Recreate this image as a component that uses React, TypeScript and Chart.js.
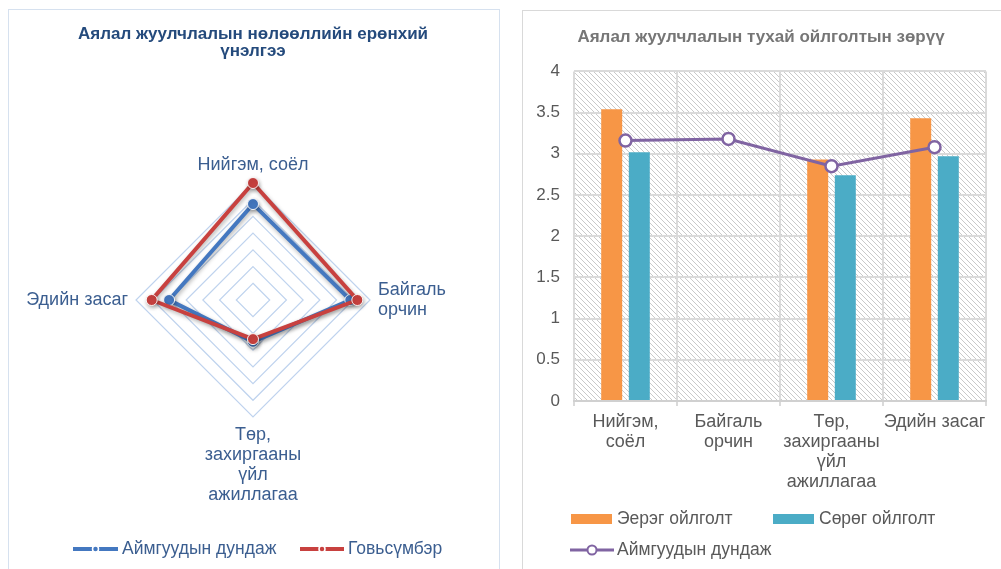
import React, { useEffect, useRef } from 'react';
import { Chart, registerables } from 'chart.js';

Chart.register(...registerables);

const FONT = '"Liberation Sans", Arial, sans-serif';

// ---------- Left chart (radar) data ----------
const radarCategories = [
  ['Нийгэм, соёл'],
  ['Байгаль', 'орчин'],
  ['Төр,', 'захиргааны', 'үйл', 'ажиллагаа'],
  ['Эдийн засаг'],
];
const radarTitle = ['Аялал жуулчлалын нөлөөллийн ерөнхий', 'үнэлгээ'];
const radarSeriesNames = ['Аймгуудын дундаж', 'Говьсүмбэр'];
const radarAimagAverage = [2.87, 2.91, 1.25, 2.51];
const radarGovisumber = [3.5, 3.12, 1.17, 3.03];
const radarMin = 0;
const radarMax = 3.5;
const radarStep = 0.5;

// ---------- Right chart (bar + line) data ----------
const barTitle = 'Аялал жуулчлалын тухай ойлголтын зөрүү';
const barCategories = [
  ['Нийгэм,', 'соёл'],
  ['Байгаль', 'орчин'],
  ['Төр,', 'захиргааны', 'үйл', 'ажиллагаа'],
  ['Эдийн засаг'],
];
const barSeriesNames = ['Эерэг ойлголт', 'Сөрөг ойлголт', 'Аймгуудын дундаж'];
const positiveUnderstanding = [3.54, null, 2.93, 3.43];
const negativeUnderstanding = [3.02, null, 2.74, 2.97];
const aimagAverage = [3.16, 3.18, 2.85, 3.08];
const barAxisMin = 0;
const barAxisMax = 4;
const barAxisStep = 0.5;

const BLUE = '#4478c0';
const RED = '#c8413f';
const ORANGE = '#f79646';
const TEAL = '#4bacc6';
const PURPLE = '#8064a2';

const shadowPlugin = {
  id: 'lineShadow',
  beforeDatasetsDraw(chart: any) {
    const ctx = chart.ctx;
    ctx.save();
    ctx.shadowColor = 'rgba(0,0,0,0.3)';
    ctx.shadowBlur = 4;
    ctx.shadowOffsetX = 1;
    ctx.shadowOffsetY = 2;
  },
  afterDatasetsDraw(chart: any) {
    chart.ctx.restore();
  },
};

const radarLegendPlugin = {
  id: 'radarLegend',
  afterDraw(chart: any) {
    const ctx = chart.ctx;
    const y = 538;
    const pos = [
      { x: 140, w: 45, tx: 189 },
      { x: 367, w: 44, tx: 415 },
    ];
    ctx.save();
    chart.data.datasets.forEach((ds: any, i: number) => {
      const p = pos[i];
      ctx.strokeStyle = ds.borderColor;
      ctx.lineWidth = 4;
      ctx.lineCap = 'butt';
      ctx.beginPath();
      ctx.moveTo(p.x, y);
      ctx.lineTo(p.x + p.w, y);
      ctx.stroke();
      ctx.fillStyle = ds.borderColor;
      ctx.strokeStyle = '#ffffff';
      ctx.lineWidth = 1.5;
      ctx.beginPath();
      ctx.arc(p.x + p.w / 2, y, 3, 0, Math.PI * 2);
      ctx.fill();
      ctx.stroke();
      ctx.fillStyle = '#3b5e90';
      ctx.font = `17.5px ${FONT}`;
      ctx.textBaseline = 'middle';
      ctx.textAlign = 'left';
      ctx.fillText(ds.label, p.tx, y);
    });
    ctx.restore();
  },
};

const hatchPlugin = {
  id: 'hatch',
  beforeDraw(chart: any) {
    const a = chart.chartArea;
    if (!a) return;
    const ctx = chart.ctx;
    const tile = document.createElement('canvas');
    tile.width = 5;
    tile.height = 5;
    const t = tile.getContext('2d')!;
    t.strokeStyle = '#c9c9c9';
    t.lineWidth = 1;
    t.beginPath();
    t.moveTo(-1, -1);
    t.lineTo(6, 6);
    t.moveTo(-1, 4);
    t.lineTo(1, 6);
    t.moveTo(4, -1);
    t.lineTo(6, 1);
    t.stroke();
    const pat = ctx.createPattern(tile, 'repeat');
    ctx.save();
    ctx.fillStyle = pat;
    ctx.fillRect(a.left, a.top, a.right - a.left, a.bottom - a.top);
    ctx.restore();
  },
};

const barLegendPlugin = {
  id: 'barLegend',
  afterDraw(chart: any) {
    const ctx = chart.ctx;
    const ds = chart.data.datasets;
    ctx.save();
    ctx.font = `17.5px ${FONT}`;
    ctx.textBaseline = 'middle';
    ctx.textAlign = 'left';
    // row 1: bar series
    const row1 = 507;
    const boxes = [
      { x: 47, tx: 93 },
      { x: 249, tx: 295 },
    ];
    [0, 1].forEach((i) => {
      const b = boxes[i];
      ctx.fillStyle = ds[i].backgroundColor;
      ctx.fillRect(b.x, row1 - 5, 41, 10);
      ctx.fillStyle = '#595959';
      ctx.fillText(ds[i].label, b.tx, row1);
    });
    // row 2: line series
    const row2 = 538;
    const l = ds[2];
    ctx.strokeStyle = l.borderColor;
    ctx.lineWidth = 3;
    ctx.beginPath();
    ctx.moveTo(46, row2);
    ctx.lineTo(90, row2);
    ctx.stroke();
    ctx.fillStyle = '#ffffff';
    ctx.lineWidth = 2;
    ctx.beginPath();
    ctx.arc(68, row2, 4.5, 0, Math.PI * 2);
    ctx.fill();
    ctx.stroke();
    ctx.fillStyle = '#595959';
    ctx.fillText(l.label, 93, row2);
    ctx.restore();
  },
};

function RadarChart() {
  const ref = useRef<HTMLCanvasElement>(null);
  useEffect(() => {
    const chart = new Chart(ref.current as HTMLCanvasElement, {
      type: 'radar',
      data: {
        labels: radarCategories,
        datasets: [
          {
            label: radarSeriesNames[0],
            data: radarAimagAverage,
            borderColor: BLUE,
            backgroundColor: BLUE,
            pointBackgroundColor: BLUE,
            pointBorderColor: 'rgba(255,255,255,0.9)',
            pointBorderWidth: 1,
            pointRadius: 5.5,
            borderWidth: 4,
            fill: false,
            tension: 0,
            order: 1,
          },
          {
            label: radarSeriesNames[1],
            data: radarGovisumber,
            borderColor: RED,
            backgroundColor: RED,
            pointBackgroundColor: RED,
            pointBorderColor: 'rgba(255,255,255,0.9)',
            pointBorderWidth: 1,
            pointRadius: 5.5,
            borderWidth: 4,
            fill: false,
            tension: 0,
            order: 0,
          },
        ],
      },
      options: {
        responsive: false,
        animation: false,
        devicePixelRatio: 1,
        layout: { padding: { top: 0, bottom: 34, left: 0, right: 0 } },
        plugins: {
          legend: { display: false },
          tooltip: { enabled: false },
          title: {
            display: true,
            text: radarTitle,
            color: '#244a7c',
            font: { size: 17, weight: 'bold', family: FONT, lineHeight: 1 },
            padding: { top: 15, bottom: 65 },
          },
        },
        scales: {
          r: {
            min: radarMin,
            max: radarMax,
            ticks: { display: false, stepSize: radarStep },
            grid: { color: '#bfd3ee', lineWidth: 1.2 },
            angleLines: { display: false },
            pointLabels: {
              color: '#3b5e90',
              font: { size: 18, family: FONT, lineHeight: 20 / 18 },
              padding: 8,
            },
          },
        },
      } as any,
      plugins: [shadowPlugin, radarLegendPlugin],
    });
    return () => chart.destroy();
  }, []);
  return (
    <canvas
      ref={ref}
      width={640}
      height={558}
      style={{ position: 'absolute', left: -67, top: 11, width: 640, height: 558 }}
    />
  );
}

function BarLineChart() {
  const ref = useRef<HTMLCanvasElement>(null);
  useEffect(() => {
    const chart = new Chart(ref.current as HTMLCanvasElement, {
      type: 'bar',
      data: {
        labels: barCategories,
        datasets: [
          {
            type: 'bar',
            label: barSeriesNames[0],
            data: positiveUnderstanding,
            backgroundColor: ORANGE,
            categoryPercentage: 0.536,
            barPercentage: 0.76,
            order: 1,
          },
          {
            type: 'bar',
            label: barSeriesNames[1],
            data: negativeUnderstanding,
            backgroundColor: TEAL,
            categoryPercentage: 0.536,
            barPercentage: 0.76,
            order: 2,
          },
          {
            type: 'line',
            label: barSeriesNames[2],
            data: aimagAverage,
            borderColor: PURPLE,
            backgroundColor: '#ffffff',
            borderWidth: 3,
            pointRadius: 6,
            pointBackgroundColor: '#ffffff',
            pointBorderColor: PURPLE,
            pointBorderWidth: 2.5,
            tension: 0,
            fill: false,
            order: 0,
          },
        ],
      } as any,
      options: {
        responsive: false,
        animation: false,
        devicePixelRatio: 1,
        layout: { padding: { left: 12, right: 15, top: 0, bottom: 71 } },
        plugins: {
          legend: { display: false },
          tooltip: { enabled: false },
          title: {
            display: true,
            text: barTitle,
            color: '#767676',
            font: { size: 17, weight: 'bold', family: FONT, lineHeight: 1.2 },
            padding: { top: 15, bottom: 24 },
          },
        },
        scales: {
          x: {
            grid: { color: '#dadada', lineWidth: 2, offset: true, drawTicks: true, tickLength: 5 },
            border: { display: true, color: '#d0d0d0', width: 2 },
            ticks: {
              color: '#595959',
              font: { size: 18, family: FONT, lineHeight: 20 / 18 },
              padding: 6,
              maxRotation: 0,
              autoSkip: false,
            },
          },
          y: {
            min: barAxisMin,
            max: barAxisMax,
            ticks: {
              stepSize: barAxisStep,
              color: '#595959',
              font: { size: 17, family: FONT },
              padding: 14,
              callback: (v: any) => String(Number(v)),
            },
            grid: { color: '#dadada', lineWidth: 2, drawTicks: false },
            border: { display: false },
            afterFit: (s: any) => {
              s.width = 38;
            },
          },
        },
      } as any,
      plugins: [hatchPlugin, barLegendPlugin],
    });
    return () => chart.destroy();
  }, []);
  return (
    <canvas
      ref={ref}
      width={477}
      height={557}
      style={{ position: 'absolute', left: 524, top: 12, width: 477, height: 557 }}
    />
  );
}

export default function App() {
  return (
    <div
      style={{
        position: 'fixed',
        left: 0,
        top: 0,
        width: 1001,
        height: 569,
        overflow: 'hidden',
        background: '#ffffff',
      }}
    >
      <div
        style={{
          position: 'absolute',
          left: 8,
          top: 9,
          width: 492,
          height: 640,
          border: '1px solid #d6e1ef',
          boxSizing: 'border-box',
        }}
      />
      <div
        style={{
          position: 'absolute',
          left: 522,
          top: 10,
          width: 520,
          height: 640,
          border: '1px solid #d9d9d9',
          boxSizing: 'border-box',
        }}
      />
      <RadarChart />
      <BarLineChart />
    </div>
  );
}
